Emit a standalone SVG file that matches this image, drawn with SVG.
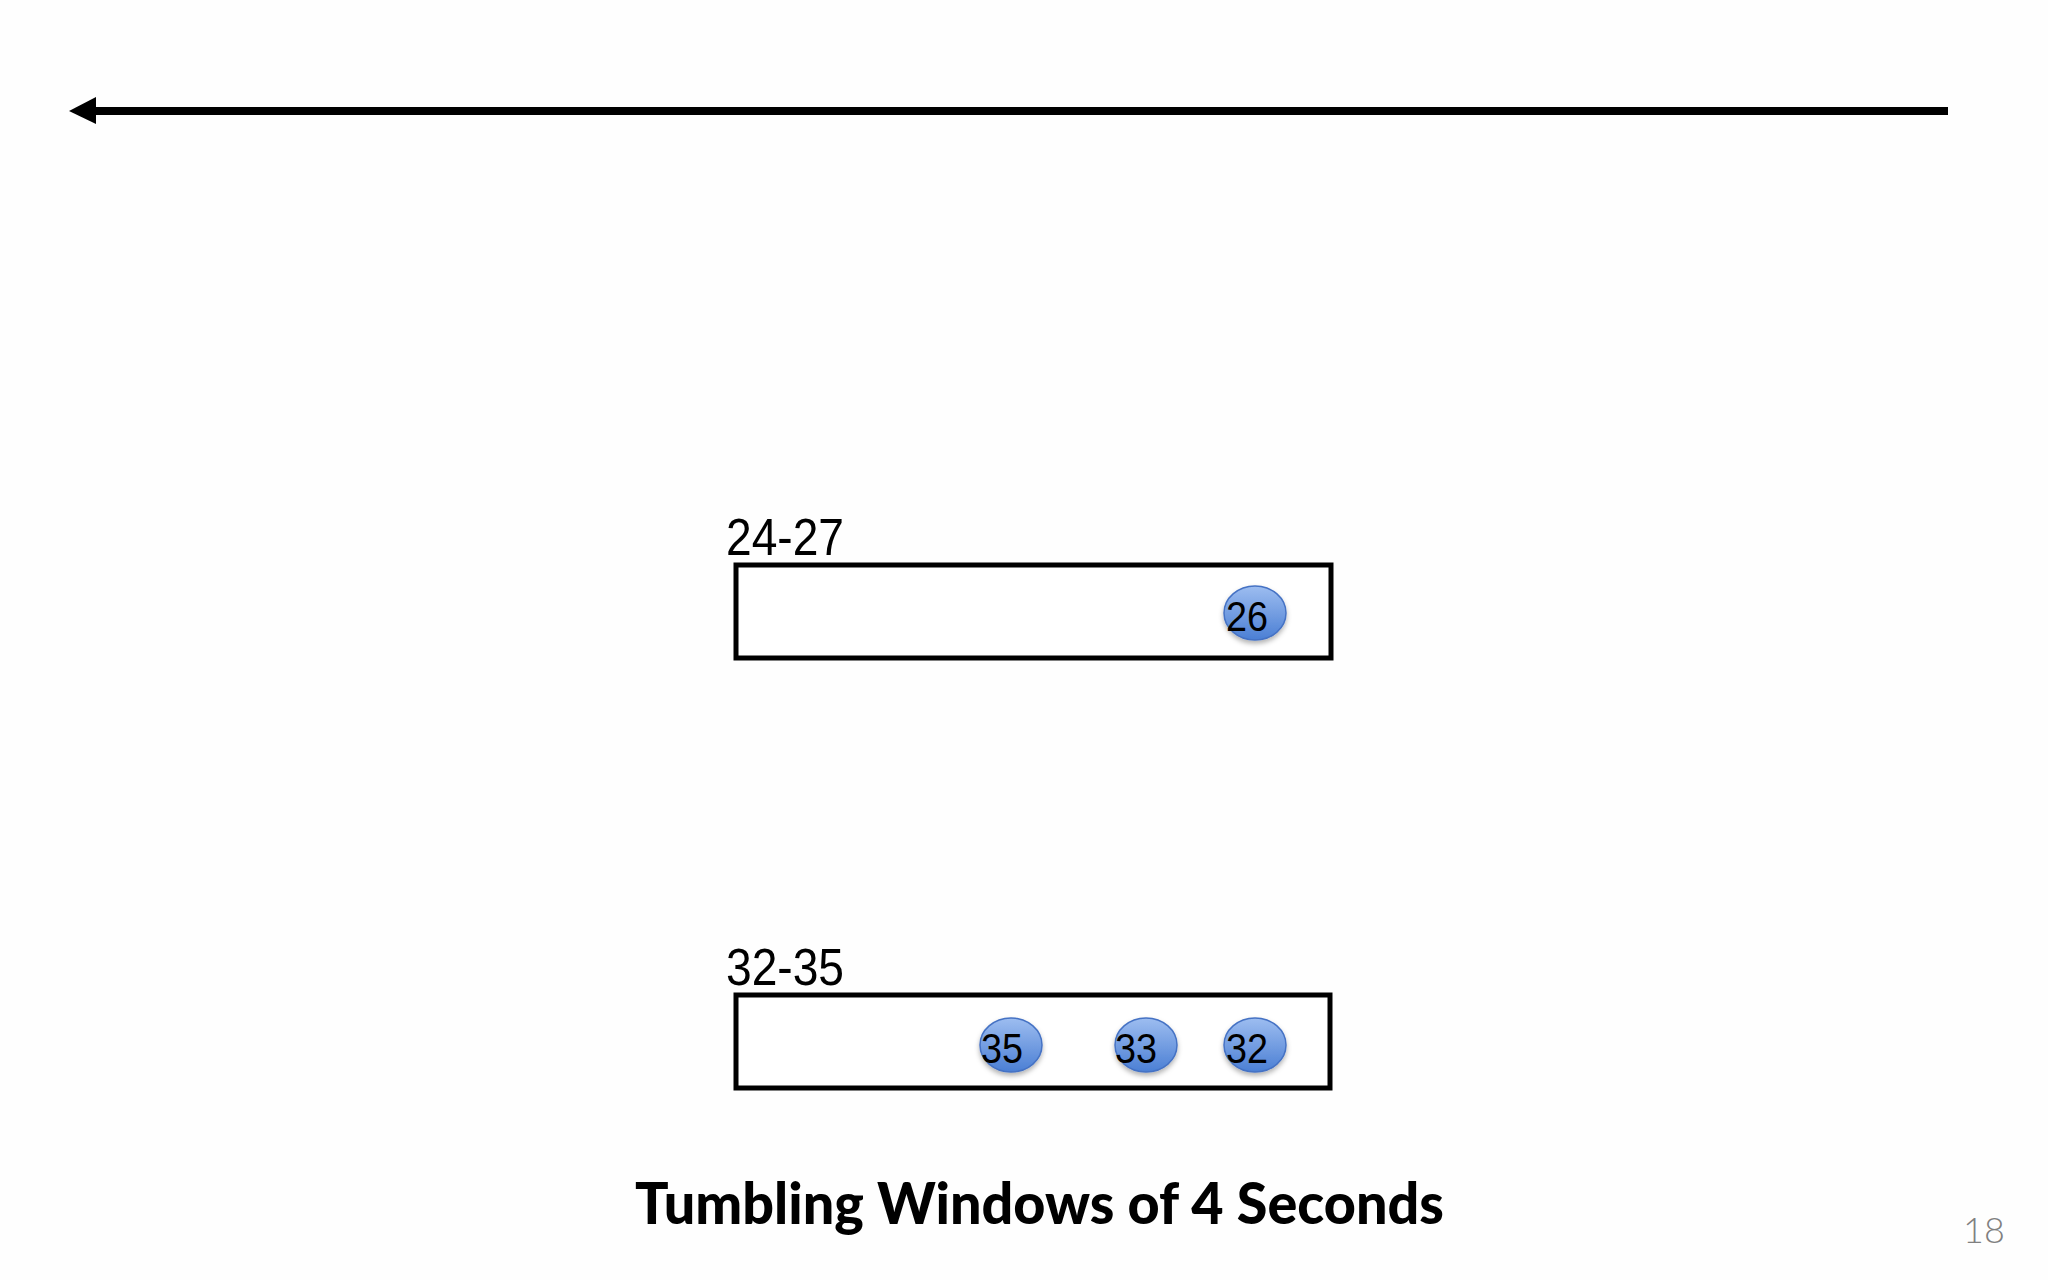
<svg xmlns="http://www.w3.org/2000/svg" width="2048" height="1280" viewBox="0 0 2048 1280">
<defs>
<linearGradient id="ball" x1="0" y1="0" x2="0" y2="1">
<stop offset="0" stop-color="#9dbdf0"/>
<stop offset="1" stop-color="#4b7fd4"/>
</linearGradient>
<filter id="sh" x="-30%" y="-30%" width="160%" height="170%">
<feDropShadow dx="0" dy="3" stdDeviation="2.5" flood-color="#000" flood-opacity="0.3"/>
</filter>
<style>
.win{fill:#fff;stroke:#000;stroke-width:5}
.lbl{font-family:"Liberation Sans",Arial,sans-serif;font-size:52px;fill:#000}
.ev{fill:url(#ball);stroke:#4572c4;stroke-width:1.5;filter:url(#sh)}
.evt{font-family:"Liberation Sans",Arial,sans-serif;font-size:42px;fill:#000}
</style>
</defs>
<rect width="2048" height="1280" fill="#fefefe"/>
<g id="connectors">
<line x1="92" y1="111" x2="1948" y2="111" stroke="#000" stroke-width="8"/>
<polygon points="69,111 96,97 96,124" fill="#000"/>
</g>
<g id="window-24-27">
<text class="lbl" x="726" y="555" textLength="118" lengthAdjust="spacingAndGlyphs">24-27</text>
<rect class="win" x="736" y="565" width="595" height="93"/>
</g>
<g id="event-26">
<ellipse class="ev" cx="1255" cy="613" rx="31" ry="27"/>
<text class="evt" x="1226" y="631" textLength="42" lengthAdjust="spacingAndGlyphs">26</text>
</g>
<g id="window-32-35">
<text class="lbl" x="726" y="985" textLength="118" lengthAdjust="spacingAndGlyphs">32-35</text>
<rect class="win" x="736" y="995" width="594" height="93"/>
</g>
<g id="event-35">
<ellipse class="ev" cx="1011" cy="1045" rx="31" ry="27"/>
<text class="evt" x="981" y="1063" textLength="42" lengthAdjust="spacingAndGlyphs">35</text>
</g>
<g id="event-33">
<ellipse class="ev" cx="1146" cy="1045" rx="31" ry="27"/>
<text class="evt" x="1115" y="1063" textLength="42" lengthAdjust="spacingAndGlyphs">33</text>
</g>
<g id="event-32">
<ellipse class="ev" cx="1255" cy="1045" rx="31" ry="27"/>
<text class="evt" x="1226" y="1063" textLength="42" lengthAdjust="spacingAndGlyphs">32</text>
</g>
<text x="635" y="1224" font-family="Lato,'Liberation Sans',sans-serif" font-weight="900" font-size="57" fill="#000" textLength="809" lengthAdjust="spacingAndGlyphs">Tumbling Windows of 4 Seconds</text>
<text x="1963" y="1243" font-family="Lato,'Liberation Sans',sans-serif" font-weight="300" font-size="36" fill="#808080">18</text>
</svg>
